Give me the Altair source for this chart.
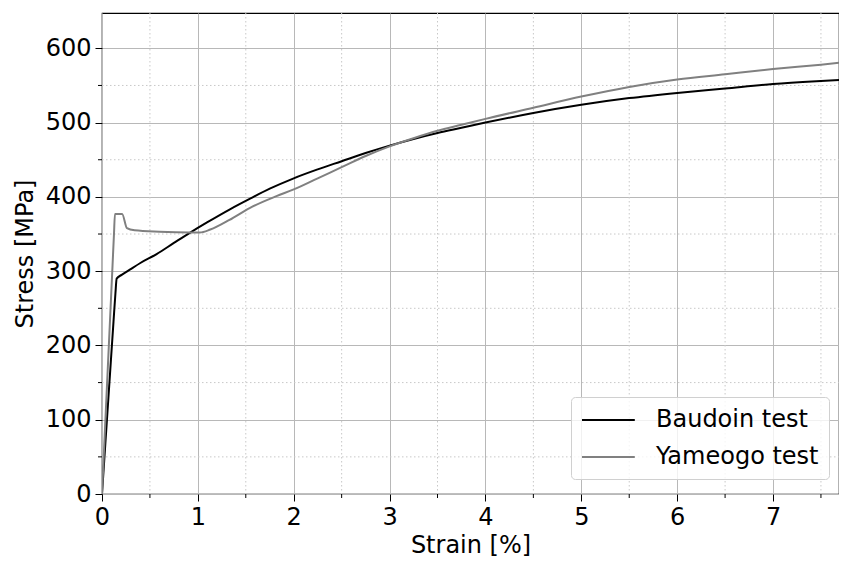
import altair as alt
import pandas as pd

# Baudoin test (black)
baud_strain = [0, 0.04, 0.08, 0.12, 0.14, 0.153, 0.205, 0.29, 0.4, 0.57, 0.75, 0.92, 1.1, 1.33, 1.55, 1.75, 2.0, 2.25, 2.5, 2.75, 3.0, 3.25, 3.5, 3.75, 4.0, 4.5, 5.0, 5.5, 6.0, 6.5, 7.0, 7.5, 7.8]
baud_stress = [0, 78, 155, 232, 270, 290, 295, 302, 311, 323, 338, 352, 366, 383, 398, 411, 425, 437, 448, 459, 469, 478, 486, 493, 500, 513, 524, 533, 540, 546, 552, 556, 558]

# Yameogo test (gray)
yam_strain = [0, 0.04, 0.08, 0.11, 0.125, 0.135, 0.21, 0.26, 0.34, 0.6, 0.92, 1.02, 1.13, 1.33, 1.54, 1.82, 2.0, 2.25, 2.5, 2.75, 3.0, 3.25, 3.5, 3.75, 4.0, 4.5, 5.0, 5.5, 6.0, 6.5, 7.0, 7.5, 7.8]
yam_stress = [0, 112, 224, 308, 350, 377, 377, 358, 355, 353, 352, 352, 356, 369, 385, 401, 410, 425, 440, 455, 468, 479, 489, 497, 505, 520, 535, 548, 558, 565, 572, 578, 582]

series_names = ["Baudoin test", "Yameogo test"]
series_colors = ["black", "#808080"]

minor_x = [0.5, 1.5, 2.5, 3.5, 4.5, 5.5, 6.5, 7.5]
minor_y = [50, 150, 250, 350, 450, 550]
major_x = [0, 1, 2, 3, 4, 5, 6, 7]
major_y = [0, 100, 200, 300, 400, 500, 600]

W, H = 737, 481
XMAX = W / 95.86
YMAX = H / 0.7428
FS = 24

df = pd.concat([
    pd.DataFrame({"strain": baud_strain, "stress": baud_stress, "series": series_names[0], "order": range(len(baud_strain))}),
    pd.DataFrame({"strain": yam_strain, "stress": yam_stress, "series": series_names[1], "order": range(len(yam_strain))}),
])

xscale = alt.Scale(domain=[0, XMAX], nice=False, zero=False)
yscale = alt.Scale(domain=[0, YMAX], nice=False, zero=False)

mx = pd.DataFrame({"v": minor_x})
my = pd.DataFrame({"v": minor_y})

minor_grid_x = alt.Chart(mx).mark_rule(color="#c8c8c8", strokeDash=[1.5, 2.5], strokeWidth=1).encode(
    x=alt.X("v:Q", scale=xscale), y=alt.value(0), y2=alt.value(H))
minor_grid_y = alt.Chart(my).mark_rule(color="#c8c8c8", strokeDash=[1.5, 2.5], strokeWidth=1).encode(
    y=alt.Y("v:Q", scale=yscale), x=alt.value(0), x2=alt.value(W))
minor_tick_x = alt.Chart(mx).mark_rule(color="black", strokeWidth=1).encode(
    x=alt.X("v:Q", scale=xscale), y=alt.value(H), y2=alt.value(H + 4))
minor_tick_y = alt.Chart(my).mark_rule(color="black", strokeWidth=1).encode(
    y=alt.Y("v:Q", scale=yscale), x=alt.value(-4), x2=alt.value(0))

lines = alt.Chart(df).mark_line(strokeWidth=2, clip=True, interpolate="monotone").encode(
    x=alt.X("strain:Q", scale=xscale,
            axis=alt.Axis(title="Strain [%]", values=major_x, format="d", labelFlush=False)),
    y=alt.Y("stress:Q", scale=yscale,
            axis=alt.Axis(title="Stress [MPa]", values=major_y, format="d", labelFlush=False)),
    color=alt.Color("series:N", scale=alt.Scale(domain=series_names, range=series_colors),
                    legend=alt.Legend(title=None, orient="none", legendX=469, legendY=384,
                                      symbolType="M-1,0H3.4",
                                      symbolStrokeWidth=2, symbolSize=576, labelFontSize=FS,
                                      labelFont="DejaVu Sans", labelColor="black",
                                      fillColor="rgba(255,255,255,0.8)", strokeColor="#d0d0d0",
                                      cornerRadius=4, padding=10, rowPadding=12, labelOffset=49,
                                      labelLimit=400)),
    order="order:Q",
)

chart = alt.layer(minor_grid_x, minor_grid_y, lines, minor_tick_x, minor_tick_y).properties(
    width=W, height=H,
    autosize=alt.AutoSizeParams(type="none"),
    padding={"left": 94, "top": 5, "right": 0, "bottom": 66},
).configure_view(stroke="black", strokeWidth=1.2).configure_axis(
    labelFontSize=FS, titleFontSize=FS, labelFont="DejaVu Sans", titleFont="DejaVu Sans",
    titleFontWeight="normal", labelColor="black", titleColor="black",
    grid=True, gridColor="#b8b8b8", gridWidth=1, domain=False,
    tickColor="black", tickSize=7, tickWidth=1, labelPadding=4,
).configure_axisX(titlePadding=4).configure_axisY(titlePadding=8)

chart.save("out.html", embed_options={"renderer": "svg", "actions": False})
